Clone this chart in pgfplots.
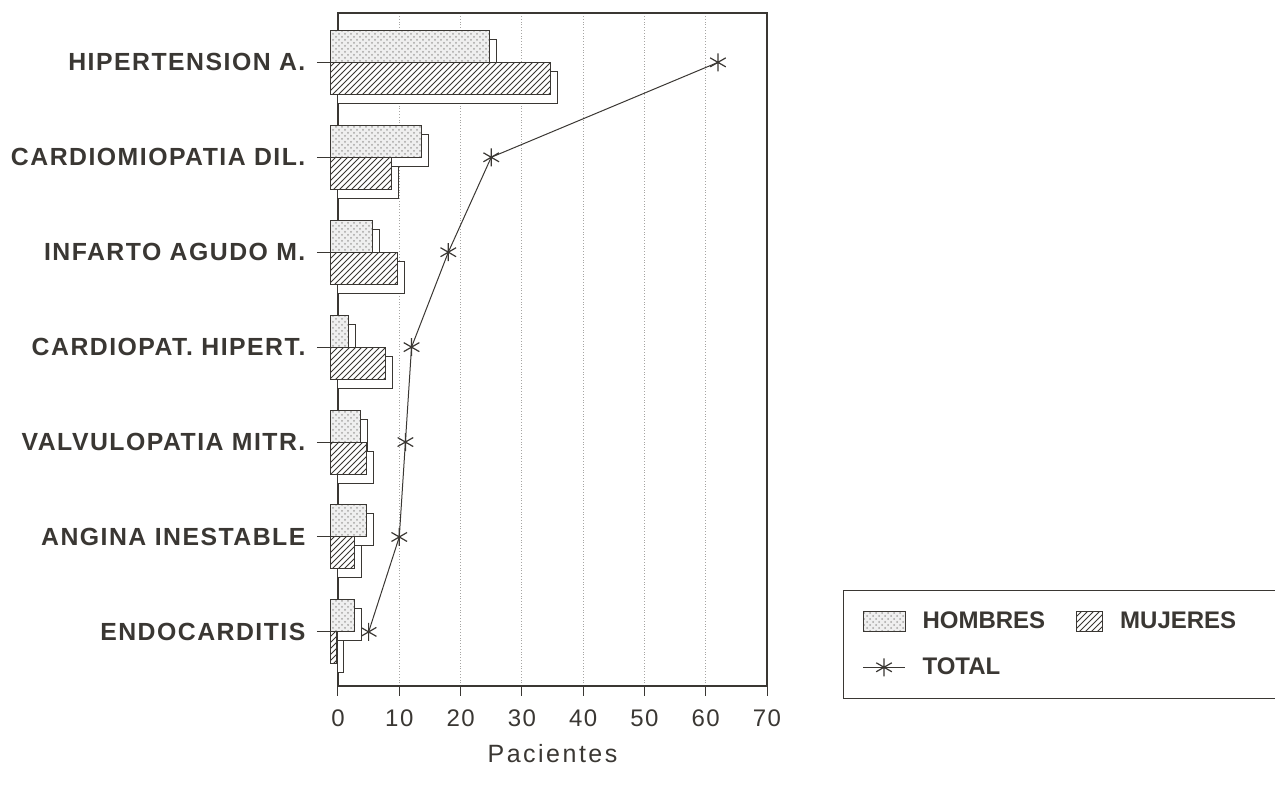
\documentclass[border=0pt]{standalone}
\usepackage{pgfplots}
\pgfplotsset{compat=1.18}
\usepackage{fontspec}
\setmainfont{Liberation Sans}
\newfontfamily\catfont{Liberation Sans}[LetterSpace=6]
\newfontfamily\numfont{Liberation Sans}[LetterSpace=6]
\newfontfamily\labfont{Liberation Sans}[LetterSpace=10]
\usetikzlibrary{patterns,shadows}
\definecolor{ink}{HTML}{3A3733}

% fills of the two bar series
\tikzset{
  hombres/.style={fill=ink!8, postaction={pattern=crosshatch dots, pattern color=ink!45}},
  mujeres/.style={fill=white, postaction={pattern=north east lines, pattern color=ink}},
  % extruded bar look: a white offset copy behind each bar
  bar3d/.style={
    fill=white, draw=ink, line width=0.5pt,
    drop shadow={shadow xshift=3.5pt, shadow yshift=-4.5pt,
                 fill=white, draw=ink, opacity=1},
  },
}
\pgfplotsset{
  frame/.style={
    scale only axis, width=214.5pt, height=336.5pt,
    xmin=0, xmax=70, ymin=-0.57, ymax=6.52,
  },
  totlegend/.style={legend image code/.code={%
    \draw[##1, mark repeat=2, mark phase=2] plot coordinates {(0pt,0pt) (10.5pt,0pt) (21pt,0pt)};}},
  hlegend/.style={legend image code/.code={%
    \draw[draw=ink, line width=0.5pt, hombres] (0pt,-5pt) rectangle (21pt,5pt);}},
  mlegend/.style={legend image code/.code={%
    \draw[draw=ink, line width=0.5pt, mujeres] (0pt,-5pt) rectangle (13pt,5pt);}},
}

\begin{document}
\begin{tikzpicture}
\path[use as bounding box] (0,0) rectangle (637.5pt,393.5pt);
% frame, grid, ticks, total line and legend
\begin{axis}[
  frame,
  at={(169pt,50.5pt)}, anchor=south west,
  xtick={0,10,...,70},
  ytick={0,...,6},
  yticklabels={ENDOCARDITIS, ANGINA INESTABLE, VALVULOPATIA MITR., CARDIOPAT. HIPERT., INFARTO AGUDO M., CARDIOMIOPATIA DIL., HIPERTENSION A.},
  xtick pos=bottom, ytick pos=left,
  tick align=outside,
  xtick style={draw=ink, line width=0.5pt, /pgfplots/major tick length=5pt},
  ytick style={draw=ink, line width=0.5pt, /pgfplots/major tick length=10.5pt},
  axis line style={draw=ink, line width=0.6pt},
  xmajorgrids,
  grid style={ink!45, densely dotted, line width=0.4pt},
  /pgf/number format/assume math mode=true,
  xticklabel style={font=\numfont\fontsize{12}{14}\selectfont, text=ink, yshift=-4pt},
  yticklabel style={font=\catfont\fontsize{12.4}{14}\bfseries\selectfont, text=ink, xshift=-8.5pt},
  xlabel={Pacientes},
  every axis x label/.style={at={(axis description cs:0.5,0)}, anchor=center, yshift=-34pt,
    font=\labfont\fontsize{12.5}{14}\selectfont, text=ink},
  legend columns=2,
  legend cell align=left,
  legend style={at={(1.177,0.1426)}, anchor=north west,
    draw=ink, line width=0.6pt, inner xsep=9.5pt, inner ysep=9pt,
    font=\fontsize{12}{14}\bfseries\selectfont, text=ink,
    nodes={inner sep=1.5pt},
    row sep=10pt,
    /tikz/every odd column/.style={column sep=7pt},
    /tikz/every even column/.style={column sep=14pt}},
]
\addlegendimage{hlegend}
\addlegendentry{HOMBRES}
\addlegendimage{mlegend}
\addlegendentry{MUJERES\hspace*{40pt}}
% total per diagnosis
\addplot[draw=ink, line width=0.5pt, mark=asterisk, mark size=4.5pt,
  mark options={solid, line width=0.6pt}, totlegend]
  coordinates {(62,6) (25,5) (18,4) (12,3) (11,2) (10,1) (5,0)};
\addlegendentry{TOTAL}
\end{axis}
% the extruded bars, with their front faces set slightly forward (left)
\begin{axis}[
  frame,
  at={(165pt,50.5pt)}, anchor=south west,
  hide axis, clip=false,
]
% men (upper bar of each pair)
\addplot[xbar, bar width=16pt, bar shift=8pt, bar3d, hombres]
  coordinates {(26,6) (15,5) (7,4) (3,3) (5,2) (6,1) (4,0)};
% women (lower bar, drawn in front)
\addplot[xbar, bar width=16pt, bar shift=-8pt, bar3d, mujeres]
  coordinates {(36,6) (10,5) (11,4) (9,3) (6,2) (4,1) (1,0)};
\end{axis}
\end{tikzpicture}
\end{document}
